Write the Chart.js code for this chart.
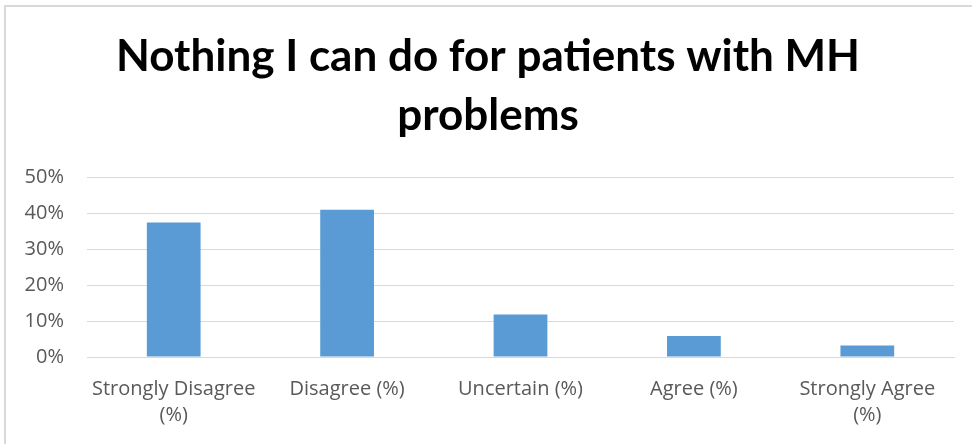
<!DOCTYPE html>
<html>
<head>
<meta charset="utf-8">
<script src="https://cdn.jsdelivr.net/npm/chart.js@4"></script>
<style>
  html, body { margin: 0; padding: 0; background: #fff; }
  #wrap { position: relative; width: 972px; height: 444px; }
  #frame {
    position: absolute; left: 4px; top: 5px; right: -4px; bottom: -4px;
    border-left: 2px solid #d9d9d9; border-top: 2px solid #d9d9d9;
  }
  canvas { position: absolute; left: 0; top: 0; }
</style>
</head>
<body>
<div id="wrap">
  <div id="frame"></div>
  <canvas id="barChart" width="972" height="444"></canvas>
</div>
<script>
// chart data //
const chartTitle = ["Nothing I can do for patients with MH", "problems"];
const categories = [
  ["Strongly Disagree", "(%)"],
  "Disagree (%)",
  "Uncertain (%)",
  "Agree (%)",
  ["Strongly Agree", "(%)"]
];
const percentValues = [37.4, 40.9, 11.8, 5.8, 3.2];
const yTickMax = 50;
const yTickStep = 10;

document.addEventListener("DOMContentLoaded", function () {
  const ctx = document.getElementById("barChart").getContext("2d");
  const barChart = new Chart(ctx, {
    type: "bar",
    data: {
      labels: categories,
      datasets: [
        {
          data: percentValues,
          backgroundColor: "#5b9bd5",
          borderWidth: 0,
          barPercentage: 0.62,
          categoryPercentage: 0.5,
        },
      ],
    },
    options: {
      responsive: false,
      animation: false,
      layout: {
        padding: { left: 22, right: 18, top: 0, bottom: 16 },
      },
      plugins: {
        legend: { display: false },
        tooltip: { enabled: false },
        title: {
          display: true,
          text: chartTitle,
          color: "#000000",
          font: { family: "Lato", size: 44, weight: "bold", lineHeight: 1.33 },
          padding: { top: 28, bottom: 32 },
        },
      },
      scales: {
        x: {
          afterFit: (scale) => { scale.height = 71; },
          grid: { display: false, drawTicks: false },
          border: { display: true, color: "#d9d9d9", width: 1 },
          ticks: {
            color: "#595959",
            padding: 19,
            maxRotation: 0,
            autoSkip: false,
            font: { family: "Open Sans", size: 20, lineHeight: 1.3 },
          },
        },
        y: {
          min: 0,
          max: yTickMax,
          afterFit: (scale) => { scale.width = 65; },
          grid: { color: "#d9d9d9", lineWidth: 1, drawTicks: false },
          border: { display: false },
          ticks: {
            stepSize: yTickStep,
            color: "#595959",
            padding: 23,
            font: { family: "Open Sans", size: 20 },
            callback: (value) => value + "%",
          },
        },
      },
    },
  });
});
</script>
</body>
</html>
